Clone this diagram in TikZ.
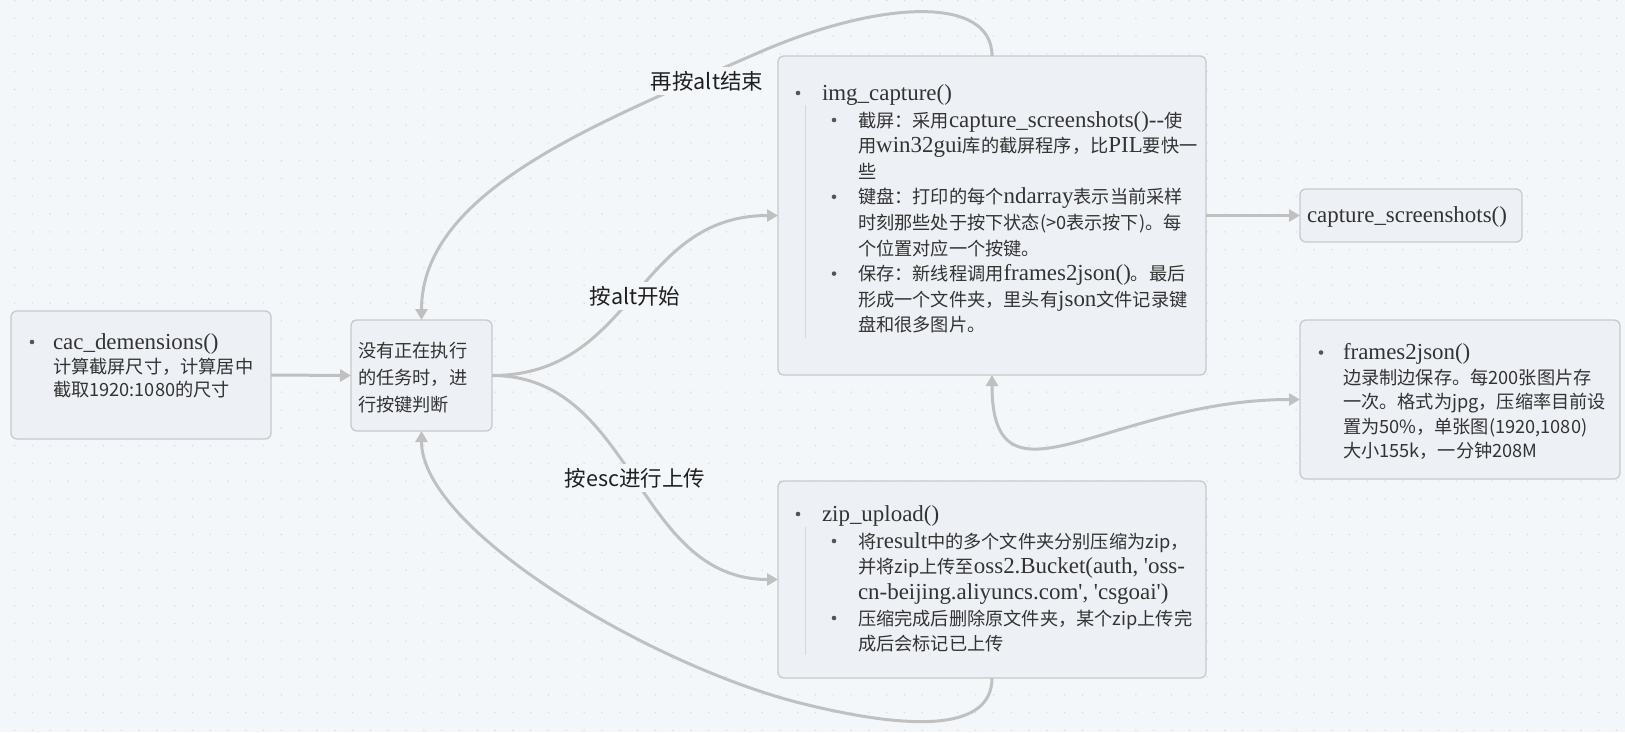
\documentclass[tikz,border=0pt]{standalone}
\usepackage{fontspec}
\setmainfont{Noto Sans CJK SC}
\newfontfamily\enfont{Liberation Serif}[Scale=1.26]
\usetikzlibrary{arrows.meta}

\definecolor{canvas}{HTML}{F4F7FA}
\definecolor{boxfill}{HTML}{EDF0F4}
\definecolor{boxline}{HTML}{C6C9CE}
\definecolor{wirec}{HTML}{C0C0C0}
\definecolor{ink}{HTML}{333333}
\definecolor{dotc}{HTML}{D5DBE2}
\definecolor{guide}{HTML}{D6D8DB}
\definecolor{bulc}{HTML}{555555}

\newcommand\en[1]{{\enfont #1}}

\tikzset{
  box/.style={draw=boxline, fill=boxfill, rounded corners=6pt, line width=1.3pt,
              inner sep=0pt, outer sep=0pt},
  txt/.style={anchor=base west, inner sep=0pt, outer sep=0pt, text=ink,
              font=\fontsize{18.2pt}{22pt}\selectfont},
  lab/.style={fill=canvas, inner sep=4pt, text=black!88,
              font=\fontsize{21.5pt}{24pt}\selectfont},
  conn/.style={draw=wirec, line width=3pt, -{Triangle[length=11pt,width=12pt]}},
  conn2/.style={draw=wirec, line width=3pt,
                {Triangle[length=11pt,width=12pt]}-{Triangle[length=11pt,width=12pt]}},
  bul/.style={fill=bulc},
  rail/.style={draw=guide, line width=1pt}
}

\begin{document}
\begin{tikzpicture}[x=1pt,y=-1pt]
\useasboundingbox (0,0) rectangle (1625,732);
\fill[canvas] (0,0) rectangle (1625,732);

% dotted canvas grid
\foreach \i in {0,...,91}
  \foreach \j in {0,...,41}
    \fill[dotc] (14.5+17.8*\i, 0.5+17.8*\j) circle (0.8pt);

% boxes
\node[box, minimum width=260pt, minimum height=128pt] (cac)   at (141,375)    {};
\node[box, minimum width=141pt, minimum height=111pt] (judge) at (421.5,375.5) {};
\node[box, minimum width=428pt, minimum height=319pt] (cap)   at (992,215.5)  {};
\node[box, minimum width=222pt, minimum height=53pt]  (shot)  at (1411,215.5) {};
\node[box, minimum width=320pt, minimum height=159pt] (f2j)   at (1460,399.5) {};
\node[box, minimum width=428pt, minimum height=197pt] (zip)   at (992,579.5)  {};

% cac_demensions
\fill[bul] (32,342) circle (2.3pt);
\node[txt] (a1) at (53,349) {\en{cac\_demensions()}};
\node[txt] (a2) at (53,373) {计算截屏尺寸，计算居中};
\node[txt] (a3) at (53,396) {截取1920:1080的尺寸};

% key handling
\node[txt] (b1) at (358,357) {没有正在执行};
\node[txt] (b2) at (358,384) {的任务时，进};
\node[txt] (b3) at (358,411) {行按键判断};

% img_capture
\draw[rail] (805,105) -- (805,338);
\fill[bul] (798,93) circle (2.3pt);
\node[txt] (c0) at (822,100) {\en{img\_capture()}};
\fill[bul] (834,120) circle (2.3pt);
\node[txt] (c1) at (858,127)   {截屏：采用\en{capture\_screenshots()--}使};
\node[txt] (c2) at (858,152.6) {用\en{win32gui}库的截屏程序，比\en{PIL}要快一};
\node[txt] (c3) at (858,178.2) {些};
\fill[bul] (834,196.8) circle (2.3pt);
\node[txt] (c4) at (858,203.8) {键盘：打印的每个\en{ndarray}表示当前采样};
\node[txt] (c5) at (858,229.4) {时刻那些处于按下状态(>0表示按下)。每};
\node[txt] (c6) at (858,255)   {个位置对应一个按键。};
\fill[bul] (834,273.6) circle (2.3pt);
\node[txt] (c7) at (858,280.6) {保存：新线程调用\en{frames2json()}。最后};
\node[txt] (c8) at (858,306.2) {形成一个文件夹，里头有\en{json}文件记录键};
\node[txt] (c9) at (858,331.8) {盘和很多图片。};

% capture_screenshots
\node[txt] (d0) at (1307,222) {\en{capture\_screenshots()}};

% frames2json
\fill[bul] (1321,352.5) circle (2.3pt);
\node[txt] (e0) at (1343,359.5) {\en{frames2json()}};
\node[txt] (e1) at (1343,384)   {边录制边保存。每200张图片存};
\node[txt] (e2) at (1343,408.5) {一次。格式为jpg，压缩率目前设};
\node[txt] (e3) at (1343,433)   {置为50\%，单张图(1920,1080)};
\node[txt] (e4) at (1343,457.5) {大小155k，一分钟208M};

% zip_upload
\draw[rail] (805,527) -- (805,655);
\fill[bul] (798,514) circle (2.3pt);
\node[txt] (f0) at (822,521) {\en{zip\_upload()}};
\fill[bul] (834,541) circle (2.3pt);
\node[txt] (f1) at (858,548)   {将\en{result}中的多个文件夹分别压缩为zip，};
\node[txt] (f2) at (858,573.5) {并将zip上传至\en{oss2.Bucket(auth, 'oss-}};
\node[txt] (f3) at (858,599)   {\en{cn-beijing.aliyuncs.com', 'csgoai')}};
\fill[bul] (834,618) circle (2.3pt);
\node[txt] (f4) at (858,625)   {压缩完成后删除原文件夹，某个zip上传完};
\node[txt] (f5) at (858,650)   {成后会标记已上传};

% connectors
\draw[conn] (cac.east) -- (judge.west);
\draw[conn] (judge.east) .. controls (635,375.5) and (635,215.5) .. (cap.west);
\draw[conn] (judge.east) .. controls (635,375.5) and (635,579.5) .. (zip.west);
\draw[conn] (cap.east) -- (shot.west);
\draw[conn2] (cap.south) .. controls (992,520) and (1110,399.5) .. (f2j.west);
\draw[conn] (cap.north) .. controls (992,-5) and (880,0) .. (760,52)
            .. controls (600,122) and (421.5,190) .. (judge.north);
\draw[conn] (zip.south) .. controls (992,735) and (900,728) .. (800,703)
            .. controls (650,665) and (421.5,530) .. (judge.south);

% connector labels
\node[lab] (l1) at (707,81)  {再按alt结束};
\node[lab] (l2) at (635,296) {按alt开始};
\node[lab] (l3) at (635,478) {按esc进行上传};
\end{tikzpicture}
\end{document}
